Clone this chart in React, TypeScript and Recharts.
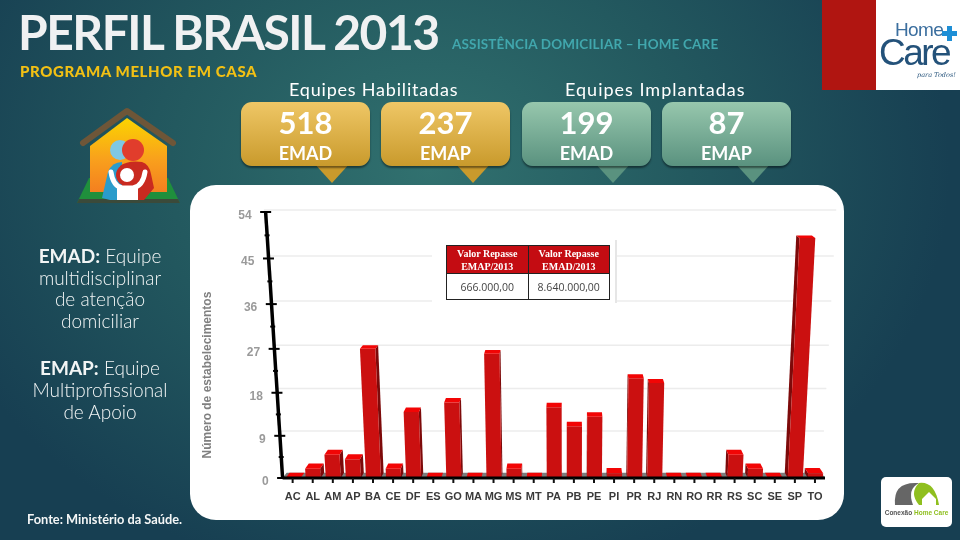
import { Bar, BarChart, CartesianGrid, XAxis, YAxis } from "recharts";

const states = ["AC", "AL", "AM", "AP", "BA", "CE", "DF", "ES", "GO", "MA", "MG", "MS", "MT", "PA", "PB", "PE", "PI", "PR", "RJ", "RN", "RO", "RR", "RS", "SC", "SE", "SP", "TO"];
const counts = [0, 2, 5, 4, 27, 2, 14, 0, 16, 0, 26, 2, 0, 15, 11, 13, 1, 21, 20, 0, 0, 0, 5, 2, 0, 49, 1];
const gridValues = [9, 18, 27, 36, 45, 54];
const axisTicks = [0, 4.5, 9, 13.5, 18, 22.5, 27, 31.5, 36, 40.5, 45, 49.5, 54];
const data = states.map((uf, i) => ({ uf, count: counts[i] }));

const teamsEnabled = [
  { value: "518", label: "EMAD" },
  { value: "237", label: "EMAP" },
];
const teamsDeployed = [
  { value: "199", label: "EMAD" },
  { value: "87", label: "EMAP" },
];
const repasseHeaders = ["EMAP/2013", "EMAD/2013"];
const repasseValues = ["666.000,00", "8.640.000,00"];

const PLOT_LEFT = 282.6;
const PLOT_RIGHT = 825;
const PLOT_TOP = 212;
const PLOT_BOTTOM = 478;
const PLOT_H = PLOT_BOTTOM - PLOT_TOP;
const VANISH_X = 570;

// the original is a tilted 3D chart, so library coordinates get bent a little
function project(x: number, y: number) {
  const t = (PLOT_BOTTOM - y) / PLOT_H;
  return {
    x: x + (x - VANISH_X) * 0.059 * t,
    y: PLOT_BOTTOM - PLOT_H * (t - 0.058 * t * (1 - t)),
    t,
  };
}

function backPoint(x: number, y: number) {
  const p = project(x, y);
  return { x: p.x + (VANISH_X - p.x) * 0.014, y: p.y - (5.3 - 3.3 * p.t) };
}

const pts = (list: { x: number; y: number }[]) => list.map((p) => `${p.x},${p.y}`).join(" ");

function Bar3D(props: any) {
  const { x, y, width, height } = props;
  const fl = project(x, y);
  const fr = project(x + width, y);
  const bl = project(x, y + height);
  const br = project(x + width, y + height);
  const tl = backPoint(x, y);
  const tr = backPoint(x + width, y);
  const lowL = backPoint(x, y + height);
  const lowR = backPoint(x + width, y + height);
  const leftOfCenter = x + width / 2 < VANISH_X;
  return (
    <g>
      {leftOfCenter ? (
        <polygon points={pts([fr, tr, lowR, br])} fill="#7d0a0a" />
      ) : (
        <polygon points={pts([fl, tl, lowL, bl])} fill="#7d0a0a" />
      )}
      <polygon points={pts([fl, fr, br, bl])} fill="#cb1010" />
      <polygon points={pts([fl, fr, tr, tl])} fill="#f20505" />
    </g>
  );
}

function GridLine(props: any) {
  const { x1, x2, y1 } = props;
  const a = backPoint(x1, y1);
  const b = backPoint(x2, y1);
  // the grey floor goes with the top line so it stays behind the bars
  const floorA = backPoint(x1, PLOT_BOTTOM);
  const floorB = backPoint(x2, PLOT_BOTTOM);
  return (
    <g>
      {Math.abs(y1 - PLOT_TOP) < 1 && (
        <polygon
          points={pts([floorA, floorB, { x: x2, y: PLOT_BOTTOM }, { x: x1, y: PLOT_BOTTOM }])}
          fill="#7c7c7c"
        />
      )}
      <line x1={a.x - 6} y1={a.y} x2={b.x} y2={b.y} stroke="#ececec" strokeWidth={1.5} />
    </g>
  );
}

function YTick(props: any) {
  const { y, payload } = props;
  const value = payload.value as number;
  const p = project(PLOT_LEFT, y);
  const major = value % 9 === 0;
  const half = major ? 5.5 : 2.5;
  const top = project(PLOT_LEFT, PLOT_TOP);
  const bottom = project(PLOT_LEFT, PLOT_BOTTOM);
  return (
    <g>
      {value === 0 && (
        <line x1={bottom.x} y1={bottom.y} x2={top.x} y2={top.y} stroke="#000" strokeWidth={3.5} />
      )}
      <line x1={p.x - half} y1={p.y} x2={p.x + half} y2={p.y} stroke="#000" strokeWidth={2} />
      {major && (
        <text
          x={p.x - 14}
          y={p.y + 7}
          textAnchor="end"
          fontFamily="Liberation Sans"
          fontWeight={700}
          fontSize={12}
          fill="#9a9a9a"
        >
          {value}
        </text>
      )}
    </g>
  );
}

function Callout({ left, tail, color, value, label }: any) {
  return (
    <div style={{ position: "absolute", left, top: 102, width: 129, height: 80 }}>
      <div
        style={{
          position: "absolute",
          left: tail - left - 19,
          top: 60,
          width: 38,
          height: 21,
          background: color[1],
          clipPath: "polygon(0 0, 100% 0, 50% 100%)",
        }}
      />
      <div
        style={{
          position: "absolute",
          inset: "0 0 16px 0",
          borderRadius: 11,
          background: `linear-gradient(${color[0]}, ${color[1]})`,
          boxShadow: "0 2px 2px rgba(0,0,0,0.45)",
          color: "#fff",
          textAlign: "center",
          fontFamily: "Lato",
        }}
      >
        <div style={{ fontSize: 31, fontWeight: 700, lineHeight: "40px" }}>{value}</div>
        <div style={{ fontSize: 18, fontWeight: 700, lineHeight: "20px", marginTop: 1 }}>{label}</div>
      </div>
    </div>
  );
}

function House() {
  return (
    <svg width={120} height={110} style={{ position: "absolute", left: 70, top: 100 }}>
      <defs>
        <linearGradient id="houseFill" x1="0" y1="0" x2="0" y2="1">
          <stop offset="0%" stopColor="#fbd400" />
          <stop offset="55%" stopColor="#f9a11c" />
          <stop offset="100%" stopColor="#f47f20" />
        </linearGradient>
      </defs>
      <polygon points="7,103 19,78 98,78 110,103" fill="#1f8f3c" />
      <polygon points="7,103 110,103 108,99 9,99" fill="#3b4a3a" />
      <polygon points="57,18 97,46 97,92 20,92 20,46" fill="url(#houseFill)" />
      <polyline points="13,43 57,11 103,43" fill="none" stroke="#6e5638" strokeWidth={6} strokeLinecap="round" strokeLinejoin="round" />
      <circle cx={50} cy={50} r={10} fill="#7fc8e4" />
      <path d="M32,98 L38,72 Q42,62 52,62 L52,100 L40,100 Z" fill="#2a9ccb" />
      <circle cx={63} cy={50} r={11} fill="#e13d2c" />
      <path d="M50,66 Q58,60 72,62 Q79,64 81,74 L84,88 L74,100 L54,100 Z" fill="#c92a20" />
      <circle cx={57} cy={75} r={11} fill="#c92a20" />
      <path d="M41,72 Q43,86 52,88 L63,88 Q73,86 75,72" fill="none" stroke="#fff" strokeWidth={5} strokeLinecap="round" />
      <circle cx={57} cy={75} r={7} fill="#fff" />
      <rect x={47} y={87} width={21} height={13} fill="#fff" />
    </svg>
  );
}

export default function App() {
  return (
    <div
      style={{
        position: "fixed",
        left: 0,
        top: 0,
        width: 960,
        height: 540,
        overflow: "hidden",
        background: "radial-gradient(ellipse 520px 420px at 430px 170px, #31716f 0%, #23595f 50%, #173f52 100%)",
        fontFamily: "Lato",
      }}
    >
      <div style={{ position: "absolute", left: 18, top: 3, fontSize: 48, fontWeight: 700, letterSpacing: -1.5, color: "#f0f1f2", whiteSpace: "nowrap", lineHeight: "58px" }}>
        PERFIL BRASIL 2013
      </div>
      <div style={{ position: "absolute", left: 452, top: 36, fontSize: 13.5, fontWeight: 700, letterSpacing: 0.15, color: "#41a7ad", whiteSpace: "nowrap" }}>
        ASSISTÊNCIA DOMICILIAR – HOME CARE
      </div>
      <div style={{ position: "absolute", left: 20, top: 62, fontSize: 15, fontWeight: 900, letterSpacing: 0.6, color: "#f2c014", whiteSpace: "nowrap" }}>
        PROGRAMA MELHOR EM CASA
      </div>
      <div style={{ position: "absolute", left: 289, top: 78, fontSize: 18, letterSpacing: 0.8, color: "#fff", whiteSpace: "nowrap" }}>Equipes Habilitadas</div>
      <div style={{ position: "absolute", left: 565, top: 78, fontSize: 18, letterSpacing: 1, color: "#fff", whiteSpace: "nowrap" }}>Equipes Implantadas</div>

      <Callout left={241} tail={332} color={["#efc766", "#c99a2c"]} {...teamsEnabled[0]} />
      <Callout left={381} tail={473} color={["#efc766", "#c99a2c"]} {...teamsEnabled[1]} />
      <Callout left={522} tail={613} color={["#97c7ad", "#5a927f"]} {...teamsDeployed[0]} />
      <Callout left={662} tail={753} color={["#97c7ad", "#5a927f"]} {...teamsDeployed[1]} />

      <House />

      {/* logo, top right */}
      <div style={{ position: "absolute", left: 822, top: 0, width: 54, height: 90, background: "#b01511" }} />
      <div style={{ position: "absolute", left: 876, top: 0, width: 84, height: 90, background: "#fff" }}>
        <div style={{ position: "absolute", left: 19, top: 21, fontFamily: "Liberation Sans", fontSize: 19, lineHeight: "17px", color: "#3c6f9f", letterSpacing: -0.6, whiteSpace: "nowrap" }}>Home</div>
        <div style={{ position: "absolute", left: 66, top: 31, width: 15, height: 5, background: "#1e8fd6" }} />
        <div style={{ position: "absolute", left: 71, top: 26, width: 5, height: 15, background: "#1e8fd6" }} />
        <div style={{ position: "absolute", left: 3, top: 39, fontFamily: "Liberation Sans", fontSize: 37, lineHeight: "28px", color: "#24527a", letterSpacing: -2.5, whiteSpace: "nowrap" }}>Care</div>
        <div style={{ position: "absolute", left: 41, top: 71, fontFamily: "DejaVu Serif", fontStyle: "italic", fontSize: 6.5, color: "#24527a", whiteSpace: "nowrap" }}>para Todos!</div>
      </div>

      {/* white chart card */}
      <div style={{ position: "absolute", left: 190, top: 185, width: 654, height: 335, background: "#fff", borderRadius: 26 }} />

      <div style={{ position: "absolute", left: 0, top: 245, width: 200, textAlign: "center", color: "#f2f5f5", fontSize: 19, fontWeight: 300, lineHeight: "21.6px" }}>
        <b style={{ fontWeight: 700 }}>EMAD:</b> Equipe
        <br />
        multidisciplinar
        <br />
        de atenção
        <br />
        domiciliar
      </div>
      <div style={{ position: "absolute", left: 0, top: 357, width: 200, textAlign: "center", color: "#f2f5f5", fontSize: 19, fontWeight: 300, lineHeight: "22px" }}>
        <b style={{ fontWeight: 700 }}>EMAP:</b> Equipe
        <br />
        Multiprofissional
        <br />
        de Apoio
      </div>
      <div style={{ position: "absolute", left: 27, top: 511, fontSize: 12.8, fontWeight: 700, color: "#f4f6f6", whiteSpace: "nowrap" }}>
        Fonte: Ministério da Saúde.
      </div>

      <div style={{ position: "absolute", left: 0, top: 0 }}>
        <BarChart
          width={960}
          height={540}
          data={data}
          margin={{ top: PLOT_TOP, right: 960 - PLOT_RIGHT, left: PLOT_LEFT - 60, bottom: 32 }}
          barSize={15}
        >
          <CartesianGrid vertical={false} horizontal={GridLine as any} horizontalValues={gridValues} />
          <XAxis
            dataKey="uf"
            interval={0}
            height={30}
            axisLine={{ stroke: "#000", strokeWidth: 3 }}
            tickLine={{ stroke: "#111", strokeWidth: 2 }}
            tickSize={5}
            tickMargin={9}
            tick={{ fontSize: 11, fontWeight: 700, fontFamily: "Liberation Sans", fill: "#3a3a3a" }}
          />
          <YAxis
            width={60}
            domain={[0, 54]}
            ticks={axisTicks}
            interval={0}
            axisLine={false}
            tickLine={false}
            tick={YTick as any}
            label={{
              value: "Número de estabelecimentos",
              angle: -90,
              position: "insideLeft",
              dx: -21,
              dy: 30,
              style: { textAnchor: "middle", fontSize: 12, fontWeight: 700, fontFamily: "Liberation Sans", fill: "#808080" },
            }}
          />
          <Bar dataKey="count" isAnimationActive={false} shape={Bar3D as any} />
        </BarChart>
      </div>

      {/* repasse table sits on top of the plot */}
      <div style={{ position: "absolute", left: 432, top: 240, width: 183, height: 63, background: "#fff", borderRight: "2px solid #e6e6e6" }} />
      <table
        style={{
          position: "absolute",
          left: 446,
          top: 245,
          width: 164,
          height: 55,
          borderCollapse: "collapse",
          tableLayout: "fixed",
          textAlign: "center",
          fontFamily: "Open Sans",
        }}
      >
        <tbody>
          <tr style={{ height: 28 }}>
            {repasseHeaders.map((h) => (
              <td key={h} style={{ background: "#c40c12", color: "#fff", border: "1px solid #222", fontFamily: "Liberation Serif", fontWeight: 700, fontSize: 10, lineHeight: "13px", padding: 0, whiteSpace: "nowrap" }}>
                Valor Repasse
                <br />
                {h}
              </td>
            ))}
          </tr>
          <tr>
            {repasseValues.map((v) => (
              <td key={v} style={{ border: "1.5px solid #222", color: "#444", fontSize: 10.5, padding: 0 }}>
                {v}
              </td>
            ))}
          </tr>
        </tbody>
      </table>

      {/* logo, bottom right */}
      <div style={{ position: "absolute", left: 881, top: 477, width: 71, height: 50, background: "#fff", borderRadius: 5 }}>
        <svg width={71} height={50}>
          <path d="M14,28 Q12,6 34,6 L38,6 Q26,12 32,28 Z" fill="#666" />
          <path d="M38,6 Q54,4 58,28 L38,28 Q28,16 38,6 Z" fill="#8fbf1f" />
          <polygon points="41,22 48,15 55,22 55,28 41,28" fill="#fff" />
        </svg>
        <div style={{ position: "absolute", left: 0, width: 71, top: 32, textAlign: "center", fontFamily: "Liberation Sans", fontWeight: 700, fontSize: 6.5, color: "#555", whiteSpace: "nowrap" }}>
          Conexão <span style={{ color: "#8fbf1f" }}>Home Care</span>
        </div>
      </div>
    </div>
  );
}
